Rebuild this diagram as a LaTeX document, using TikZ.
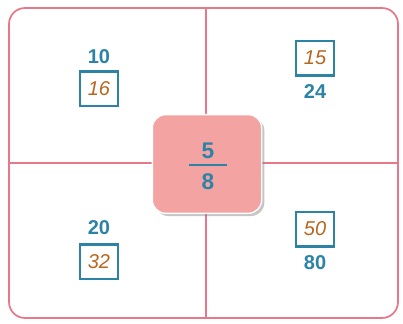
\documentclass[tikz,border=0pt]{standalone}
\usepackage{fontspec}
\setmainfont{Liberation Sans}
\usetikzlibrary{positioning, shadows, calc}
\definecolor{gridpink}{HTML}{E6788A}
\definecolor{centrepink}{HTML}{F4A3A3}
\definecolor{numblue}{HTML}{2C83A6}
\definecolor{inkbrown}{HTML}{B8651E}

\begin{document}
\begin{tikzpicture}[
    x=0.75pt, y=-0.75pt,
    num/.style={font=\fontsize{15}{15}\selectfont\bfseries, text=numblue, inner sep=0pt},
    bignum/.style={num, font=\fontsize{17}{17}\selectfont\bfseries},
    ansbox/.style={draw=numblue, line width=1.4pt, minimum width=28pt, minimum height=25pt, inner sep=0pt,
        font=\fontsize{15}{15}\selectfont\itshape, text=inkbrown},
    bar/.style={numblue, line width=2.4pt},
    grid/.style={gridpink, line width=1.3pt},
    centre/.style={fill=centrepink, draw=white, line width=1pt, rounded corners=10pt,
        minimum width=82pt, minimum height=74pt, drop shadow={opacity=0.45, shadow xshift=2pt, shadow yshift=-2pt}},
]
\useasboundingbox (0,0) rectangle (403,324);

% ── Frame and dividers ──
\draw[grid, rounded corners=12pt] (9,8) rectangle (398,318);
\coordinate (T) at (206,8);
\coordinate (B) at (206,318);
\coordinate (L) at (9,163);
\coordinate (R) at (398,163);
\draw[grid] (T) -- (B);
\draw[grid] (L) -- (R);

% ── Centre fraction ──
\node[centre] (C) at (207,164) {};
\node[bignum] (C5) at (208,151) {5};
\node[bignum] (C8) at (208,182) {8};
\draw[numblue, line width=1.8pt] ($(C5)!0.45!(C8)+(-19,0)$) coordinate (c1) -- +(38,0) coordinate (c2);

% ── Top left: 10/16 ──
\node[num] (TLn) at (99,57) {10};
\node[ansbox] (TLd) at (99,89) {16};
\draw[bar] (TLd.north west) -- (TLd.north east);

% ── Top right: 15/24 ──
\node[ansbox] (TRn) at (315,58) {15};
\node[num] (TRd) at (315,92) {24};
\draw[bar] (TRn.south west) -- (TRn.south east);

% ── Bottom left: 20/32 ──
\node[num] (BLn) at (99,228) {20};
\node[ansbox] (BLd) at (99,262) {32};
\draw[bar] (BLd.north west) -- (BLd.north east);

% ── Bottom right: 50/80 ──
\node[ansbox] (BRn) at (315,229) {50};
\node[num] (BRd) at (315,263) {80};
\draw[bar] (BRn.south west) -- (BRn.south east);

\end{tikzpicture}
\end{document}
